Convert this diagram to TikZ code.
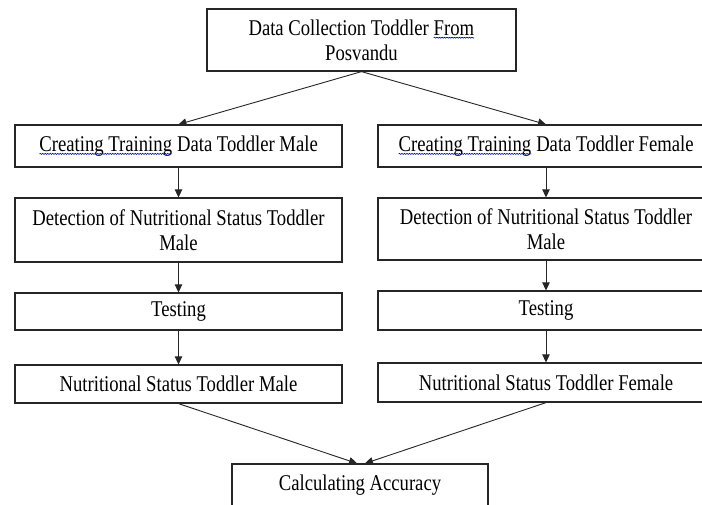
\documentclass[tikz,border=0pt]{standalone}
\usepackage{fontspec}
\setmainfont{Liberation Serif}[FakeStretch=0.83]
\usetikzlibrary{arrows.meta,decorations.pathmorphing}
\newcommand{\spellmark}[1]{\tikz[baseline=(w.base)]{\node[draw=none,inner sep=0pt,outer sep=0pt,minimum width=0pt,minimum height=0pt] (w) {#1};\draw[blue!75!black,line width=0.6pt,decorate,decoration={snake,amplitude=0.5pt,segment length=2.5pt}] ([yshift=-2.5pt]w.base west) -- ([yshift=-2.5pt]w.base east);}}
\begin{document}
\begin{tikzpicture}[x=1pt,y=-1pt,
  box/.style={draw=black!85,line width=1.2pt,inner sep=0pt,align=center,font=\fontsize{22.5}{25}\selectfont},
  arr/.style={draw=black!85,line width=0.9pt,-{Triangle[length=8pt,width=7.5pt]}}]
\useasboundingbox (0,0) rectangle (702,504);
\node[box,minimum width=309pt,minimum height=62pt] (top) at (361.5,40) {Data Collection Toddler \spellmark{From}\\Posvandu};
% left column
\node[box,minimum width=327pt,minimum height=42pt] (lc1) at (178.5,146) {\spellmark{Creating Training} Data Toddler Male};
\node[box,minimum width=327pt,minimum height=64pt] (lc2) at (178.5,230) {Detection of Nutritional Status Toddler\\Male};
\node[box,minimum width=327pt,minimum height=37pt] (lc3) at (178.5,311.5) {Testing};
\node[box,minimum width=327pt,minimum height=38pt] (lc4) at (178.5,384) {Nutritional Status Toddler Male};
% right column
\node[box,minimum width=336pt,minimum height=42pt] (rc1) at (546,146) {\spellmark{Creating Training} Data Toddler Female};
\node[box,minimum width=336pt,minimum height=62pt] (rc2) at (546,229) {Detection of Nutritional Status Toddler\\Male};
\node[box,minimum width=336pt,minimum height=39pt] (rc3) at (546,310.5) {Testing};
\node[box,minimum width=336pt,minimum height=39pt] (rc4) at (546,382.5) {Nutritional Status Toddler Female};
% bottom
\node[box,minimum width=256pt,minimum height=42pt] (acc) at (360,485) {Calculating Accuracy};
\coordinate (ba1) at ([xshift=-3pt]acc.north);
\coordinate (ba2) at ([xshift=5pt]acc.north);
% connectors
\draw[arr] (top.south) -- (lc1.north);
\draw[arr] (top.south) -- (rc1.north);
\draw[arr] (lc1) -- (lc2);
\draw[arr] (lc2) -- (lc3);
\draw[arr] (lc3) -- (lc4);
\draw[arr] (rc1) -- (rc2);
\draw[arr] (rc2) -- (rc3);
\draw[arr] (rc3) -- (rc4);
\draw[arr] (lc4.south) -- (ba1);
\draw[arr] (rc4.south) -- (ba2);
\end{tikzpicture}
\end{document}
